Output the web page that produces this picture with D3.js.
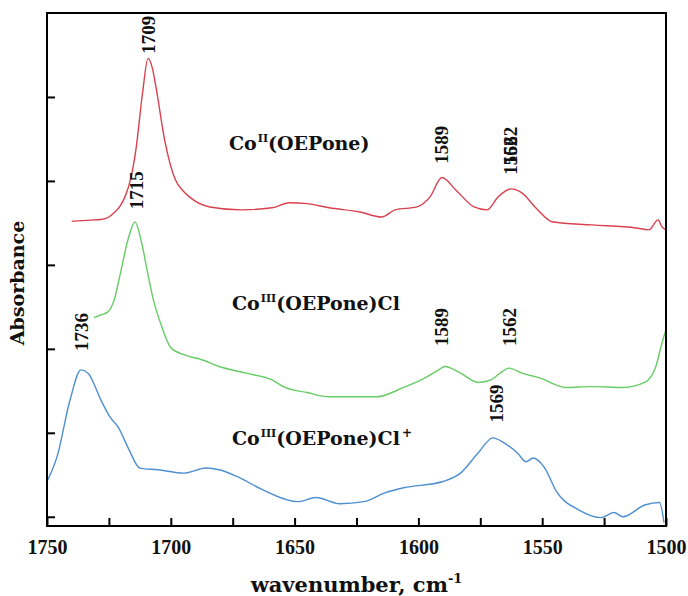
<!DOCTYPE html>
<html>
<head>
<meta charset="utf-8">
<script src="https://cdn.jsdelivr.net/npm/d3@7"></script>
<style>
  html, body { margin: 0; padding: 0; background: #fff; }
  svg { display: block; }
</style>
</head>
<body>
<svg id="chart" width="688" height="596"></svg>
<script>
// ---- data (wavenumber cm-1, absorbance in arbitrary units) ----
const coII = [
  [1740,3.52],[1734,3.53],[1728.2,3.54],[1725,3.57],[1722.9,3.62],[1720.5,3.70],[1718.5,3.81],
  [1716,4.05],[1714.1,4.37],[1711.4,5.05],[1709.2,5.46],[1707.5,5.35],[1706.0,5.12],[1702.5,4.49],
  [1698.1,4.01],[1695,3.88],[1692.5,3.81],[1684.2,3.69],[1671.6,3.655],[1659.1,3.68],[1652.1,3.74],
  [1645.0,3.73],[1636.1,3.68],[1623.6,3.63],[1614.9,3.57],[1609.4,3.655],[1600.6,3.69],[1595.3,3.81],
  [1590.5,4.04],[1584.8,3.89],[1577.5,3.69],[1572.3,3.655],[1567.8,3.81],[1562.6,3.905],[1558.2,3.857],
  [1552.9,3.69],[1545.7,3.51],[1529.9,3.476],[1512.1,3.44],[1506.9,3.417],[1503.2,3.536],[1501.6,3.452],[1500,3.417]
];
const coIIICl = [
  [1731,2.37],[1728.6,2.40],[1725.4,2.44],[1722.9,2.58],[1720.5,2.88],[1717.3,3.30],[1714.5,3.51],
  [1711.6,3.24],[1709.2,2.88],[1707,2.58],[1703.6,2.26],[1699.9,2.01],[1694.7,1.93],[1687.4,1.87],
  [1680.5,1.79],[1669.6,1.71],[1659.1,1.63],[1653.9,1.54],[1645,1.48],[1636.1,1.43],[1616.7,1.43],
  [1606,1.54],[1598.9,1.63],[1591.8,1.75],[1589.3,1.79],[1583,1.71],[1575.9,1.60],[1570.7,1.63],
  [1567,1.71],[1563.4,1.77],[1558.2,1.71],[1551.1,1.655],[1540.4,1.54],[1529.9,1.55],[1517.4,1.54],
  [1508.6,1.60],[1504.1,1.79],[1501.6,2.07],[1500,2.23]
];
const coIIIClPlus = [
  [1750,0.42],[1746,0.71],[1740.7,1.39],[1736.3,1.75],[1733.4,1.71],[1728.2,1.39],[1724.6,1.19],
  [1721.3,1.07],[1716.9,0.80],[1712.5,0.58],[1705.2,0.56],[1694.7,0.52],[1685.8,0.58],[1680.5,0.56],
  [1673.3,0.48],[1662.8,0.32],[1648.6,0.18],[1641.4,0.23],[1631.7,0.155],[1622,0.18],[1613.1,0.29],
  [1606,0.345],[1590.1,0.42],[1583,0.52],[1575.9,0.76],[1569.9,0.94],[1565.4,0.88],[1560,0.76],
  [1556.5,0.655],[1553.7,0.70],[1549.3,0.595],[1544,0.29],[1535.1,0.08],[1526.3,-0.01],[1521,0.05],
  [1517.4,0.0],[1508.6,0.14],[1502.6,0.17],[1500.8,-0.07]
];
const xTickValues = [1750,1725,1700,1675,1650,1625,1600,1575,1550,1525,1500];
const yTickValues = [0,1,2,3,4,5];
// peak labels: text, wavenumber, absorbance (label centre)
const peakLabels = [
  ["1709",1709.2,5.74],
  ["1715",1714.1,3.89],
  ["1589",1590.9,4.43],
  ["1562",1563.0,4.42],
  ["1562",1563.0,4.30],
  ["1589",1590.9,2.26],
  ["1562",1563.4,2.26],
  ["1736",1736.3,2.20],
  ["1569",1568.7,1.35]
];
// compound names: base, superscript, tail, tail superscript, wavenumber, absorbance (baseline)
const compoundLabels = [
  ["Co","II","(OEPone)","",1676.5,4.37],
  ["Co","III","(OEPone)Cl","",1675.3,2.46],
  ["Co","III","(OEPone)Cl","+",1675.3,0.86]
];
const seriesColors = ["#d9414e","#66cc66","#4d8fd1"];

// ---- layout ----
const W = 688, H = 596;
const m = {left:47, top:13, right:22, bottom:70};
const svg = d3.select("#chart");
const x = d3.scaleLinear().domain([1750,1500]).range([m.left, W - m.right]);
const y = d3.scaleLinear().domain([-0.11, 6.0]).range([H - m.bottom, m.top]);

const line = d3.line().x(d => x(d[0])).y(d => y(d[1])).curve(d3.curveMonotoneX);

const series = [coII, coIIICl, coIIIClPlus];
svg.append("g").selectAll("path").data(series).join("path")
  .attr("d", d => line(d))
  .attr("fill","none")
  .attr("stroke",(d,i)=>seriesColors[i])
  .attr("stroke-width",1.4);

// axes
const xAxis = d3.axisBottom(x).tickValues(xTickValues).tickSize(-8).tickPadding(14)
  .tickFormat(d => d % 50 === 0 ? d : "");
const gx = svg.append("g").attr("transform",`translate(0,${H - m.bottom})`).call(xAxis);
gx.select(".domain").remove();
gx.selectAll("line").attr("stroke","#000").attr("stroke-width",2);
gx.selectAll("text").attr("font-family","'Liberation Serif', serif").attr("font-weight","bold")
  .attr("font-size",20).attr("fill","#111");

const yAxis = d3.axisLeft(y).tickValues(yTickValues).tickSize(-8).tickFormat("");
const gy = svg.append("g").attr("transform",`translate(${m.left},0)`).call(yAxis);
gy.select(".domain").remove();
gy.selectAll("line").attr("stroke","#000").attr("stroke-width",2);

// frame
svg.append("rect").attr("x",m.left).attr("y",m.top)
  .attr("width",W - m.left - m.right).attr("height",H - m.top - m.bottom)
  .attr("fill","none").attr("stroke","#000").attr("stroke-width",2);

// axis titles
const xt = svg.append("text").attr("x",(m.left + W - m.right)/2).attr("y",592)
  .attr("text-anchor","middle").attr("font-family","'DejaVu Serif', serif").attr("font-weight","bold")
  .attr("font-size",21).attr("fill","#111");
xt.append("tspan").text("wavenumber, cm");
xt.append("tspan").attr("font-size",13).attr("dy",-9).text("-1");

svg.append("text").attr("transform",`translate(24,283) rotate(-90)`)
  .attr("text-anchor","middle").attr("font-family","'DejaVu Serif', serif").attr("font-weight","bold")
  .attr("font-size",19).attr("fill","#111").text("Absorbance");

// peak labels
svg.append("g").selectAll("text").data(peakLabels).join("text")
  .attr("transform",d=>`translate(${x(d[1])},${y(d[2])}) rotate(-90)`)
  .attr("text-anchor","middle").attr("dy","0.35em")
  .attr("font-family","'Liberation Serif', serif").attr("font-weight","bold")
  .attr("font-size",19).attr("fill","#111").text(d=>d[0]);

// compound labels
const cl = svg.append("g").selectAll("text").data(compoundLabels).join("text")
  .attr("x",d=>x(d[4])).attr("y",d=>y(d[5]))
  .attr("font-family","'DejaVu Serif', serif").attr("font-weight","bold")
  .attr("font-size",19).attr("fill","#111");
cl.each(function(d){
  const t = d3.select(this);
  t.append("tspan").text(d[0]);
  t.append("tspan").attr("font-size",11).attr("dy",-8).attr("dx",1).text(d[1]);
  t.append("tspan").attr("dy",8).text(d[2]);
  if (d[3]) t.append("tspan").attr("font-size",12).attr("dy",-8).attr("dx",2).text(d[3]);
});
</script>
</body>
</html>
